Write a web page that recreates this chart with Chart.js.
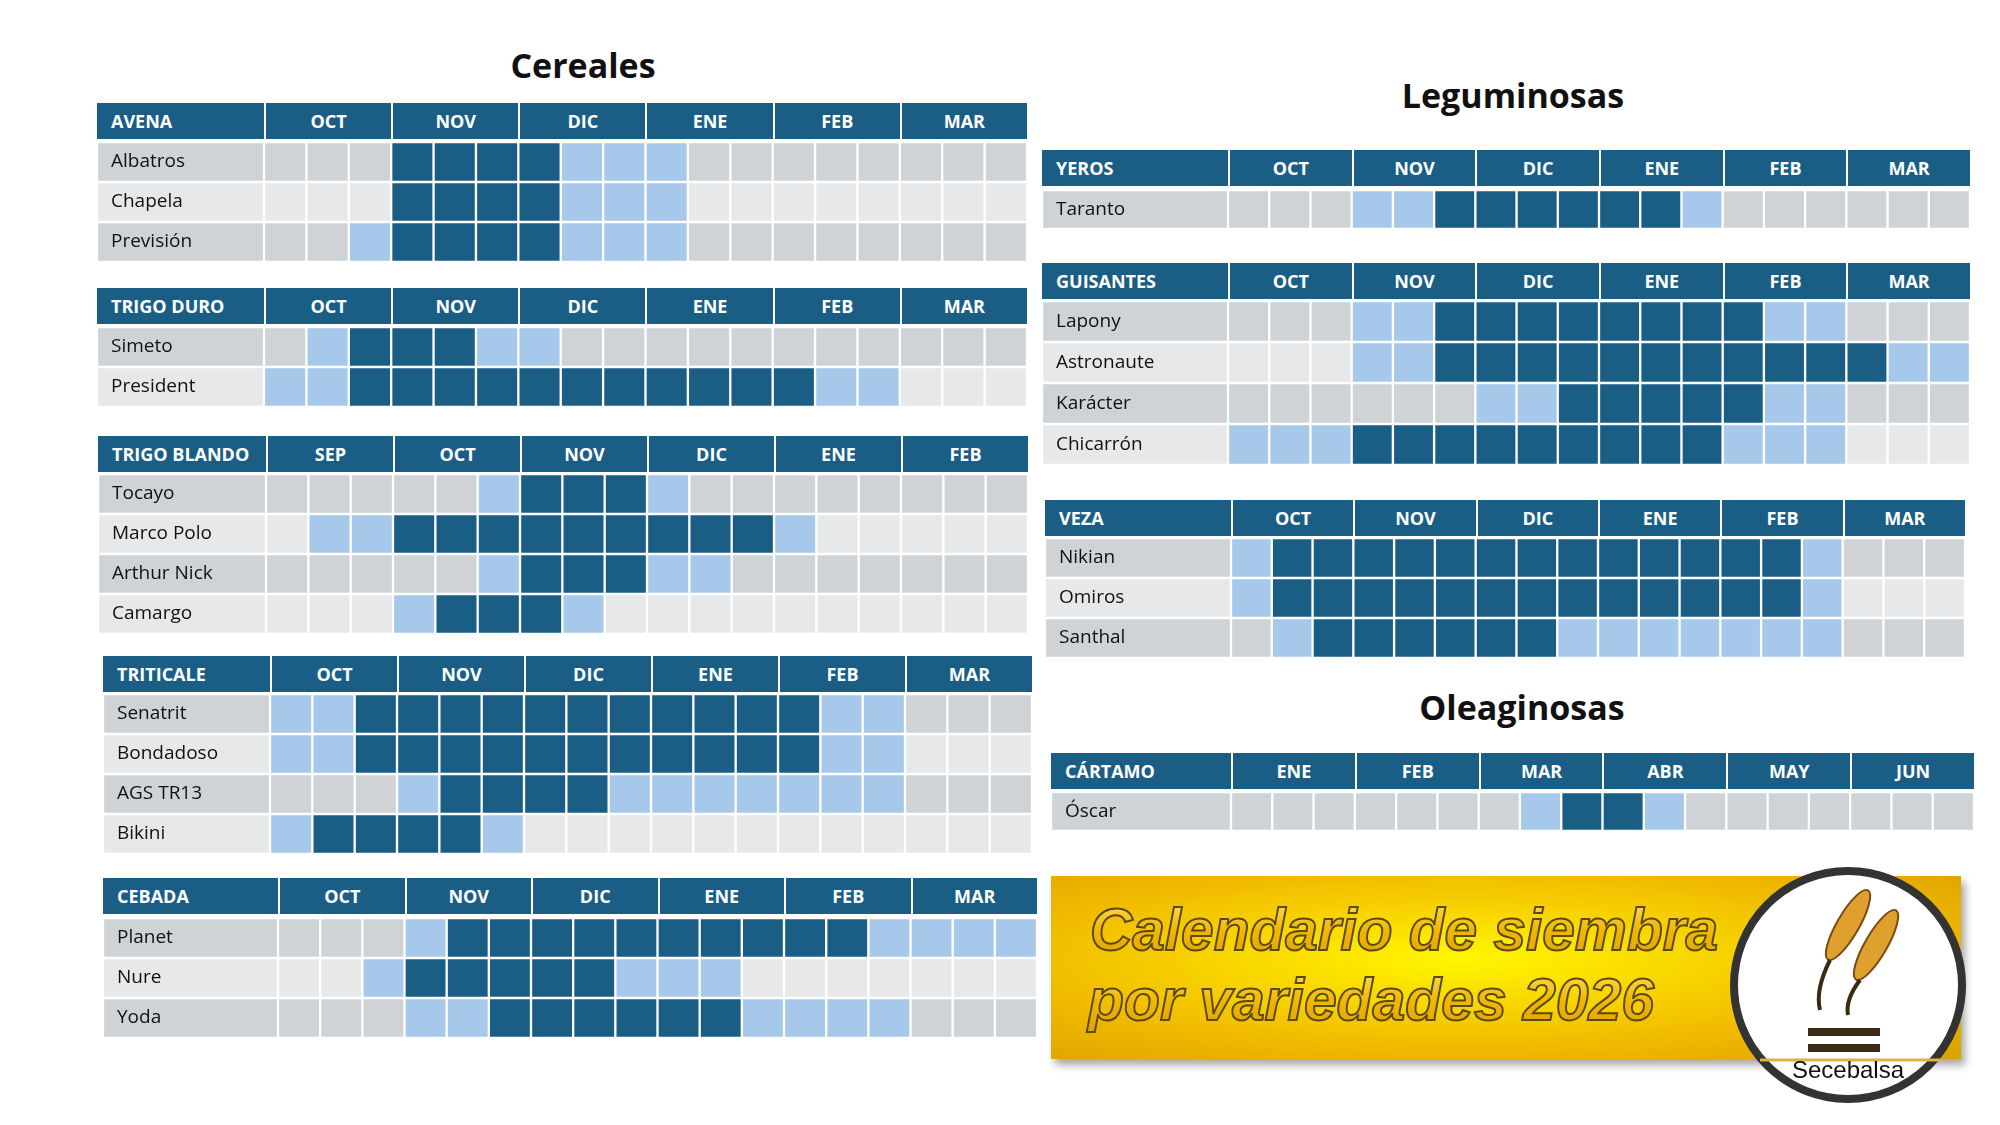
<!DOCTYPE html>
<html>
<head>
<meta charset="utf-8">
<script src="https://cdn.jsdelivr.net/npm/chart.js@4.4.1/dist/chart.umd.min.js"></script>
<style>
  body { margin: 0; width: 2000px; height: 1125px; background: #fff; position: relative; overflow: hidden;
         font-family: "Liberation Sans Narrow", "Open Sans", sans-serif; }
  .title { position: absolute; font: bold 34px "Open Sans", "Noto Sans", sans-serif; color: #111; transform: translateX(-50%); white-space: nowrap; }
  .head { position: absolute; display: flex; background: #1a5e85; color: #fff; font-weight: bold; font-size: 18px; align-items: center; }
  .head div { height: 100%; display: flex; align-items: center; justify-content: center; box-sizing: border-box; border-left: 2px solid #fff; }
  .head div:first-child { justify-content: flex-start; padding-left: 14px; border-left: none; }
  .body { position: absolute; }
  .banner { position: absolute; left: 1051px; top: 876px; width: 910px; height: 183px;
            background: radial-gradient(ellipse at 45% 45%, #fff700 0%, #f9d800 30%, #f0b800 65%, #d9a200 100%);
            box-shadow: 4px 6px 8px rgba(0,0,0,0.35); }
</style>
</head>
<body>

<script>
// ---- data: 0 = sin siembra, 1 = siembra posible, 2 = siembra óptima ----
const monthsOctMar = ["OCT", "NOV", "DIC", "ENE", "FEB", "MAR"];
const monthsSepFeb = ["SEP", "OCT", "NOV", "DIC", "ENE", "FEB"];
const monthsEneJun = ["ENE", "FEB", "MAR", "ABR", "MAY", "JUN"];

const avenaVarieties = ["Albatros", "Chapela", "Previsión"];
const avenaValues = [
    [0,0,0,2,2,2,2,1,1,1,0,0,0,0,0,0,0,0],
    [0,0,0,2,2,2,2,1,1,1,0,0,0,0,0,0,0,0],
    [0,0,1,2,2,2,2,1,1,1,0,0,0,0,0,0,0,0],
];
const duroVarieties = ["Simeto", "President"];
const duroValues = [
    [0,1,2,2,2,1,1,0,0,0,0,0,0,0,0,0,0,0],
    [1,1,2,2,2,2,2,2,2,2,2,2,2,1,1,0,0,0],
];
const blandoVarieties = ["Tocayo", "Marco Polo", "Arthur Nick", "Camargo"];
const blandoValues = [
    [0,0,0,0,0,1,2,2,2,1,0,0,0,0,0,0,0,0],
    [0,1,1,2,2,2,2,2,2,2,2,2,1,0,0,0,0,0],
    [0,0,0,0,0,1,2,2,2,1,1,0,0,0,0,0,0,0],
    [0,0,0,1,2,2,2,1,0,0,0,0,0,0,0,0,0,0],
];
const triticaleVarieties = ["Senatrit", "Bondadoso", "AGS TR13", "Bikini"];
const triticaleValues = [
    [1,1,2,2,2,2,2,2,2,2,2,2,2,1,1,0,0,0],
    [1,1,2,2,2,2,2,2,2,2,2,2,2,1,1,0,0,0],
    [0,0,0,1,2,2,2,2,1,1,1,1,1,1,1,0,0,0],
    [1,2,2,2,2,1,0,0,0,0,0,0,0,0,0,0,0,0],
];
const cebadaVarieties = ["Planet", "Nure", "Yoda"];
const cebadaValues = [
    [0,0,0,1,2,2,2,2,2,2,2,2,2,2,1,1,1,1],
    [0,0,1,2,2,2,2,2,1,1,1,0,0,0,0,0,0,0],
    [0,0,0,1,1,2,2,2,2,2,2,1,1,1,1,0,0,0],
];
const yerosVarieties = ["Taranto"];
const yerosValues = [
    [0,0,0,1,1,2,2,2,2,2,2,1,0,0,0,0,0,0],
];
const guisantesVarieties = ["Lapony", "Astronaute", "Karácter", "Chicarrón"];
const guisantesValues = [
    [0,0,0,1,1,2,2,2,2,2,2,2,2,1,1,0,0,0],
    [0,0,0,1,1,2,2,2,2,2,2,2,2,2,2,2,1,1],
    [0,0,0,0,0,0,1,1,2,2,2,2,2,1,1,0,0,0],
    [1,1,1,2,2,2,2,2,2,2,2,2,1,1,1,0,0,0],
];
const vezaVarieties = ["Nikian", "Omiros", "Santhal"];
const vezaValues = [
    [1,2,2,2,2,2,2,2,2,2,2,2,2,2,1,0,0,0],
    [1,2,2,2,2,2,2,2,2,2,2,2,2,2,1,0,0,0],
    [0,1,2,2,2,2,2,2,1,1,1,1,1,1,1,0,0,0],
];
const cartamoVarieties = ["Óscar"];
const cartamoValues = [
    [0,0,0,0,0,0,0,1,2,2,1,0,0,0,0,0,0,0],
];

// ---- colours ----
const DARK = "#1a5e85";
const LIGHT = "#a6c8ea";
const GREY_ODD = "#cfd3d6";
const GREY_EVEN = "#e6e8ea";

// variety names written at the left of each row, placed by the y scale
const rowLabels = {
    id: "rowLabels",
    afterDatasetsDraw(chart) {
        const { ctx, scales } = chart;
        ctx.save();
        ctx.fillStyle = "#111";
        ctx.font = "19px 'Liberation Sans Narrow', 'Open Sans', sans-serif";
        ctx.textBaseline = "middle";
        chart.data.labels.forEach((lab, i) => {
            ctx.fillText(lab, scales.x.getPixelForValue(0) + 14, scales.y.getPixelForValue(i));
        });
        ctx.restore();
    },
};

function addTitle(text, cx, top) {
    const d = document.createElement("div");
    d.className = "title";
    d.textContent = text;
    d.style.left = cx + "px";
    d.style.top = top + "px";
    document.body.appendChild(d);
}

function makeTable(name, months, varieties, values, box) {
    const cellW = (box.w - box.label) / 18;

    // header band
    const head = document.createElement("div");
    head.className = "head";
    Object.assign(head.style, { left: box.x + "px", top: box.head + "px", width: box.w + "px", height: "36px" });
    const first = document.createElement("div");
    first.style.width = box.label + "px";
    first.textContent = name;
    head.appendChild(first);
    months.forEach((m) => {
        const c = document.createElement("div");
        c.style.width = cellW * 3 + "px";
        c.textContent = m;
        head.appendChild(c);
    });
    document.body.appendChild(head);

    // body chart
    const rowH = box.rowH || 40;
    const wrap = document.createElement("div");
    wrap.className = "body";
    Object.assign(wrap.style, { left: box.x + "px", top: box.body + "px", width: box.w + "px", height: rowH * varieties.length + "px" });
    const canvas = document.createElement("canvas");
    wrap.appendChild(canvas);
    document.body.appendChild(wrap);

    const rowGrey = varieties.map((_, i) => (i % 2 === 0 ? GREY_ODD : GREY_EVEN));
    const labelUnits = box.label / cellW;
    const datasets = [{
        label: "variedad",
        data: varieties.map(() => labelUnits),
        backgroundColor: rowGrey,
    }];
    for (let c = 0; c < 18; c++) {
        datasets.push({
            label: "d" + c,
            data: values.map(() => 1),
            backgroundColor: values.map((row, i) => row[c] === 2 ? DARK : row[c] === 1 ? LIGHT : rowGrey[i]),
        });
    }
    datasets.forEach((ds) => Object.assign(ds, {
        borderColor: "#ffffff",
        borderWidth: 1.5,
        borderSkipped: false,
        barPercentage: 1,
        categoryPercentage: 1,
        stack: "s",
    }));

    new Chart(canvas, {
        type: "bar",
        data: { labels: varieties, datasets: datasets },
        options: {
            indexAxis: "y",
            responsive: true,
            maintainAspectRatio: false,
            animation: false,
            layout: { padding: 0 },
            plugins: { legend: { display: false }, tooltip: { enabled: false } },
            scales: {
                x: { stacked: true, display: false, min: 0, max: labelUnits + 18 },
                y: { stacked: true, display: false },
            },
        },
        plugins: [rowLabels],
    });
}

addTitle("Cereales", 583, 42);
addTitle("Leguminosas", 1513, 72);
addTitle("Oleaginosas", 1522, 684);

makeTable("AVENA", monthsOctMar, avenaVarieties, avenaValues, { x: 97, w: 930, label: 167, head: 103, body: 142 });
makeTable("TRIGO DURO", monthsOctMar, duroVarieties, duroValues, { x: 97, w: 930, label: 167, head: 288, body: 327 });
makeTable("TRIGO BLANDO", monthsSepFeb, blandoVarieties, blandoValues, { x: 98, w: 930, label: 168, head: 436, body: 474 });
makeTable("TRITICALE", monthsOctMar, triticaleVarieties, triticaleValues, { x: 103, w: 929, label: 167, head: 656, body: 694 });
makeTable("CEBADA", monthsOctMar, cebadaVarieties, cebadaValues, { x: 103, w: 934, label: 175, head: 878, body: 918 });
makeTable("YEROS", monthsOctMar, yerosVarieties, yerosValues, { x: 1042, w: 928, label: 186, head: 150, body: 190, rowH: 39 });
makeTable("GUISANTES", monthsOctMar, guisantesVarieties, guisantesValues, { x: 1042, w: 928, label: 186, head: 263, body: 301, rowH: 41 });
makeTable("VEZA", monthsOctMar, vezaVarieties, vezaValues, { x: 1045, w: 920, label: 186, head: 500, body: 538 });
makeTable("CÁRTAMO", monthsEneJun, cartamoVarieties, cartamoValues, { x: 1051, w: 923, label: 180, head: 753, body: 792, rowH: 39 });
</script>

<div class="banner"></div>
<svg style="position:absolute;left:0;top:0" width="2000" height="1125">
  <defs>
    <linearGradient id="tg" x1="0" y1="0" x2="0" y2="1">
      <stop offset="0" stop-color="#ffe066"/>
      <stop offset="0.5" stop-color="#f2b800"/>
      <stop offset="1" stop-color="#e0a000"/>
    </linearGradient>
  </defs>
  <g font-family="Liberation Sans, Arial, sans-serif" font-style="italic" font-weight="bold" font-size="60" fill="url(#tg)" stroke="#5a4a10" stroke-width="2">
    <text x="1090" y="950" textLength="628" lengthAdjust="spacingAndGlyphs">Calendario de siembra</text>
    <text x="1088" y="1020" textLength="566" lengthAdjust="spacingAndGlyphs">por variedades 2026</text>
  </g>
  <circle cx="1848" cy="985" r="114" fill="#fff" stroke="#333" stroke-width="8"/>
  <g fill="#e0a030" stroke="#7a4a10" stroke-width="2">
    <ellipse cx="1848" cy="925" rx="11" ry="40" transform="rotate(30 1848 925)"/>
    <ellipse cx="1876" cy="945" rx="11" ry="40" transform="rotate(30 1876 945)"/>
  </g>
  <path d="M1830 960 Q1815 990 1820 1010 M1860 980 Q1845 1000 1848 1015" stroke="#3a2a10" stroke-width="4" fill="none"/>
  <rect x="1808" y="1028" width="72" height="8" fill="#3a2a18"/>
  <rect x="1808" y="1044" width="72" height="8" fill="#3a2a18"/>
  <line x1="1760" y1="1060" x2="1940" y2="1060" stroke="#e0b040" stroke-width="3"/>
  <text x="1848" y="1078" text-anchor="middle" font-family="Liberation Sans, Arial, sans-serif" font-size="24" fill="#111">Secebalsa</text>
</svg>
</body>
</html>
